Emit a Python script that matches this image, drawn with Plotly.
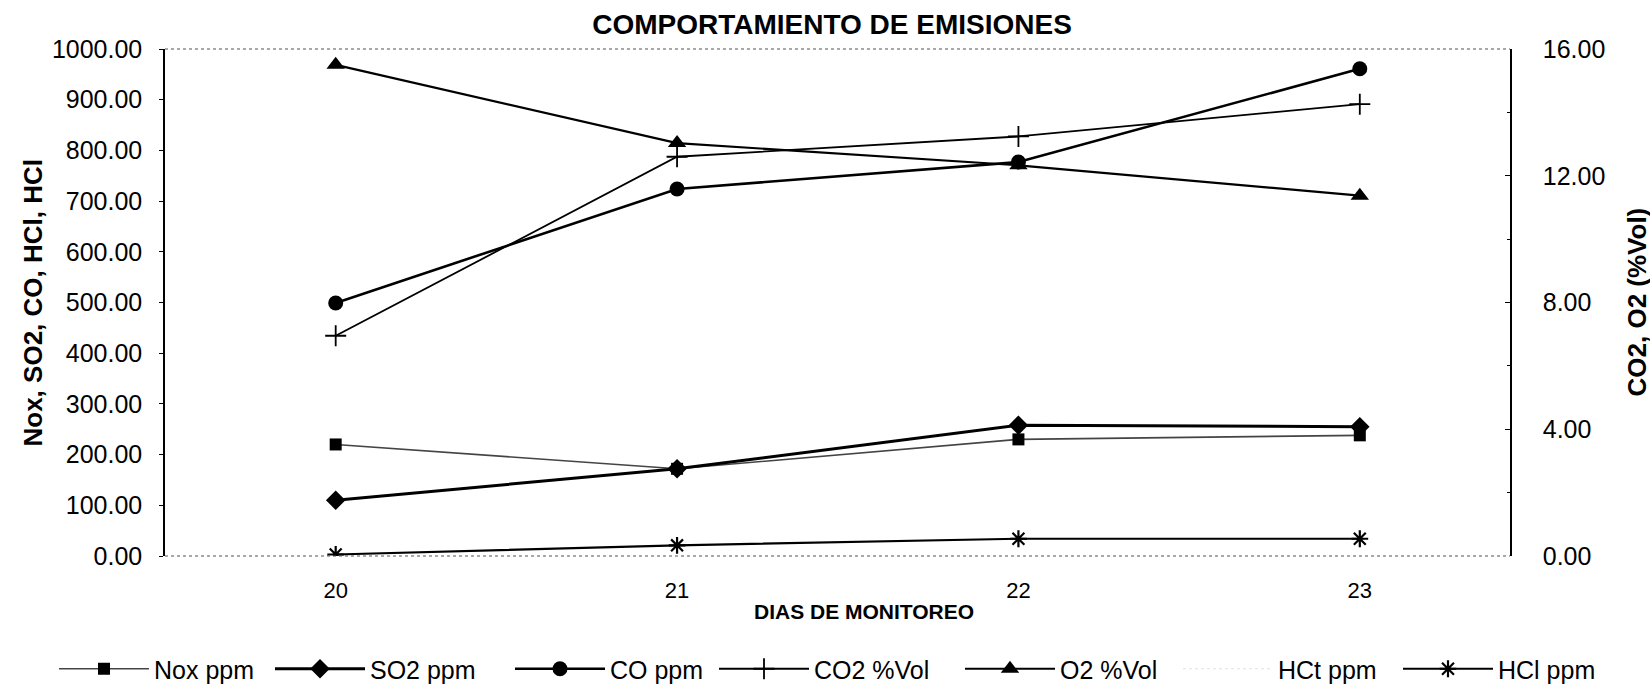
import plotly.graph_objects as go

# Monitoring days (category axis)
dias = ["20", "21", "22", "23"]

# Concentrations in ppm (left axis)
nox_ppm = [220, 172, 230, 238]
so2_ppm = [110, 172, 258, 255]
co_ppm = [499, 724, 777, 961]
hct_ppm = [None, None, None, None]
hcl_ppm = [3, 21, 34, 34]

# Volume percentages (right axis)
co2_vol = [6.95, 12.6, 13.24, 14.26]
o2_vol = [15.5, 13.03, 12.33, 11.37]

left_ticks = [0, 100, 200, 300, 400, 500, 600, 700, 800, 900, 1000]
right_ticks = [0, 4, 8, 12, 16]

FONT = "Liberation Sans, Arial, sans-serif"
W, H = 1650, 685
PL, PR, PT, PB = 165, 140, 49, 129  # plot margins in px
PW = W - PL - PR
PH = H - PT - PB

fig = go.Figure()

# legend start positions (px from left of the page)
leg_x = {"legend": 54, "legend2": 270, "legend3": 510, "legend4": 714,
         "legend5": 960, "legend6": 1178, "legend7": 1398}


def add(name, y, legend, symbol, size, width, color="black", dash="solid",
        yaxis="y", mline=0, mcolor="black"):
    fig.add_trace(go.Scatter(
        x=dias, y=y, name=name, mode="lines+markers", yaxis=yaxis,
        legend=legend,
        line=dict(color=color, width=width, dash=dash),
        marker=dict(symbol=symbol, size=size, color=mcolor,
                    line=dict(color="black", width=mline)),
    ))


add("Nox ppm", nox_ppm, "legend", "square", 12, 1.6, color="#444444")
add("SO2 ppm", so2_ppm, "legend2", "diamond", 15, 3)
add("CO ppm", co_ppm, "legend3", "circle", 15, 2.6)
add("CO2 %Vol", co2_vol, "legend4", "cross-thin", 15, 1.8, yaxis="y2", mline=1.8)
add("O2 %Vol", o2_vol, "legend5", "triangle-up", 16, 2.2, yaxis="y2")
add("HCt ppm", hct_ppm, "legend6", "circle", 1, 1.2, color="#e2e2e2", dash="dot",
    mcolor="rgba(0,0,0,0)")
add("HCl ppm", hcl_ppm, "legend7", "asterisk-open", 14, 2.2, mline=2.2)

legend_common = dict(
    orientation="h", xref="container", yref="container",
    y=1 - 669 / H, yanchor="middle", xanchor="left",
    font=dict(family=FONT, size=25, color="black"),
    bgcolor="rgba(0,0,0,0)", itemwidth=90, tracegroupgap=0,
)
layout_legends = {k: dict(legend_common, x=v / W) for k, v in leg_x.items()}


def px_x(px):
    return (px - PL) / PW


def px_y(py):
    return (H - PB - py) / PH


fig.update_layout(
    width=W, height=H,
    paper_bgcolor="white", plot_bgcolor="white",
    margin=dict(l=PL, r=PR, t=PT, b=PB),
    font=dict(family=FONT, color="black"),
    showlegend=True,
    title=dict(text="<b>COMPORTAMIENTO DE EMISIONES</b>",
               x=832 / W, xanchor="center", y=1 - 24 / H, yanchor="middle",
               xref="container", yref="container",
               font=dict(family=FONT, size=28, color="black")),
    xaxis=dict(
        type="category", range=[-0.5, 3.44],
        showgrid=False, zeroline=False, showline=False,
        ticks="", ticklabelstandoff=19,
        tickfont=dict(family=FONT, size=22),
    ),
    yaxis=dict(
        range=[0, 1000], tickvals=left_ticks,
        ticktext=[f"{v:.2f}" for v in left_ticks],
        showgrid=False, zeroline=False,
        showline=True, linecolor="black", linewidth=1.5,
        ticks="outside", ticklen=4, tickcolor="black",
        ticklabelstandoff=12,
        tickfont=dict(family=FONT, size=25),
    ),
    yaxis2=dict(
        range=[0, 16], tickvals=right_ticks,
        ticktext=[f"{v:.2f}" for v in right_ticks],
        overlaying="y", side="right",
        showgrid=False, zeroline=False,
        showline=True, linecolor="black", linewidth=1.5,
        ticks="inside", ticklen=5, tickcolor="black",
        ticklabelstandoff=26,
        minor=dict(dtick=2, ticks="inside", ticklen=3, tickcolor="black"),
        tickfont=dict(family=FONT, size=25),
    ),
    **layout_legends,
)

# axis titles
fig.add_annotation(text="<b>DIAS DE MONITOREO</b>", xref="paper", yref="paper",
                   x=px_x(864), y=px_y(611), showarrow=False,
                   xanchor="center", yanchor="middle",
                   font=dict(family=FONT, size=21))
fig.add_annotation(text="<b>Nox, SO2, CO, HCl, HCl</b>", xref="paper", yref="paper",
                   x=px_x(32), y=0.5, showarrow=False, textangle=-90,
                   xanchor="center", yanchor="middle",
                   font=dict(family=FONT, size=26))
fig.add_annotation(text="<b>CO2, O2 (%Vol)</b>", xref="paper", yref="paper",
                   x=px_x(1636), y=0.5, showarrow=False, textangle=-90,
                   xanchor="center", yanchor="middle",
                   font=dict(family=FONT, size=26))

# dotted top and bottom frame of the plotting area
for yy in (0, 1):
    fig.add_shape(type="line", xref="paper", yref="paper",
                  x0=0, x1=1, y0=yy, y1=yy,
                  line=dict(color="#555555", width=1.2, dash="dot"))

fig.write_html("out.html")
